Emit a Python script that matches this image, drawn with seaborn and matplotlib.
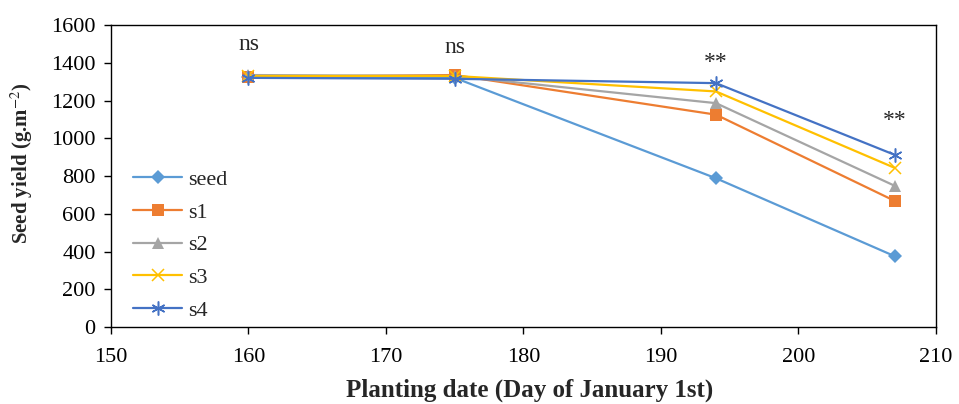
import matplotlib
matplotlib.use("Agg")
import matplotlib.pyplot as plt
import seaborn as sns
import pandas as pd

# planting dates (day of year) and seed yield per treatment
dates = [160, 175, 194, 207]
seed = [1325, 1320, 788, 375]
s1 = [1325, 1335, 1125, 668]
s2 = [1335, 1330, 1186, 748]
s3 = [1330, 1330, 1248, 843]
s4 = [1320, 1315, 1292, 912]

sig_x = [160, 175, 194, 207]
sig_y = [1465, 1450, 1370, 1065]
sig_txt = ['ns', 'ns', '**', '**']

series = {'seed': seed, 's1': s1, 's2': s2, 's3': s3, 's4': s4}
colors = {'seed': '#5B9BD5', 's1': '#ED7D31', 's2': '#A5A5A5', 's3': '#FFC000', 's4': '#4472C4'}
markers = {'seed': 'D', 's1': 's', 's2': '^', 's3': 'x', 's4': (6, 2, 0)}
msizes = {'seed': 7, 's1': 9, 's2': 9, 's3': 9, 's4': 10}

sns.set_style('white')
plt.rcParams['font.family'] = ['Liberation Serif', 'DejaVu Serif']
plt.rcParams['mathtext.fontset'] = 'stix'

fig = plt.figure(figsize=(9.59, 4.04), dpi=100)
ax = fig.add_axes([0.1157, 0.1906, 0.8603, 0.7475])

for name, vals in series.items():
    df = pd.DataFrame({'date': dates, 'yield': vals})
    sns.lineplot(data=df, x='date', y='yield', ax=ax, color=colors[name],
                 marker=markers[name], markersize=msizes[name], linewidth=1.6,
                 markeredgewidth=1.1 if name in ('s3', 's4') else 0,
                 markeredgecolor=colors[name], label=name)

for x, y, t in zip(sig_x, sig_y, sig_txt):
    ax.text(x, y, t, ha='center', va='baseline', fontsize=17)

ax.set_xlim(150, 210)
ax.set_ylim(0, 1600)
ax.set_xticks(range(150, 211, 10))
ax.set_yticks(range(0, 1601, 200))
ax.tick_params(axis='both', direction='out', length=5, width=1, colors='black',
               labelsize=16, bottom=True, left=True)
ax.tick_params(axis='y', pad=6)
ax.tick_params(axis='x', pad=10)
for sp in ax.spines.values():
    sp.set_color('black')
    sp.set_linewidth(1)

ax.set_xlabel('Planting date (Day of January 1st)', fontsize=18, fontweight='bold')
ax.xaxis.set_label_coords(0.507, -0.232)
ax.xaxis.label.set_va('baseline')
ax.set_ylabel('Seed yield (g.m$^{-2}$)', fontsize=15, fontweight='bold')
ax.yaxis.set_label_coords(-0.108, 0.544)
ax.yaxis.label.set_va('center')

ax.legend(loc='lower left', bbox_to_anchor=(0.027, 0.02), frameon=False, fontsize=16,
          handlelength=2.2, handletextpad=0.25, labelspacing=0.55,
          borderaxespad=0, borderpad=0)

fig.savefig('out.png', dpi=100)
